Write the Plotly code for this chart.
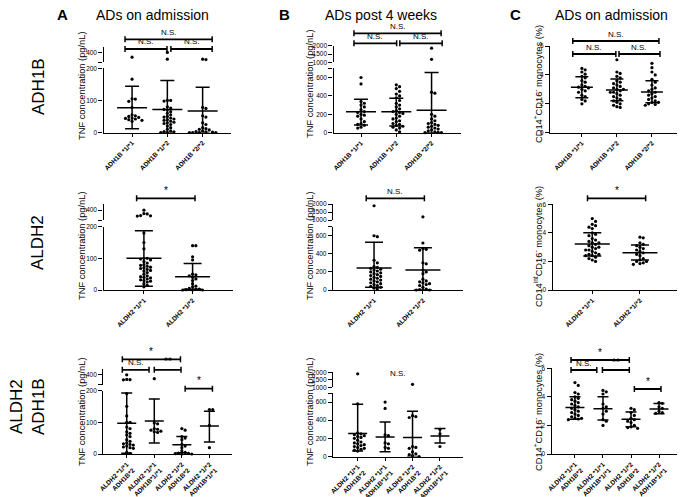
import plotly.graph_objects as go

# page has an 8px body margin: work in reference pixels and shift by OFF
OFF = 8
W, H = 685 - OFF, 497 - OFF
FONT = "Arial, 'Liberation Sans', sans-serif"

# ---------------- DATA ----------------
cats_adh1b = ["ADH1B *1/*1", "ADH1B *1/*2", "ADH1B *2/*2"]
cats_aldh2 = ["ALDH2 *1/*1", "ALDH2 *1/*2"]
cats_combo = ["ALDH2 *1/*1<br>ADH1B*2", "ALDH2 *1/*1<br>ADH1B*1/*1",
              "ALDH2 *1/*2<br>ADH1B*2", "ALDH2 *1/*2<br>ADH1B*1/*1"]

# A1: TNF on admission by ADH1B (pg/nL)
a1_g1 = [350, 166, 105, 104, 97, 78, 55, 52, 50, 47, 45, 44, 42, 40, 38, 35]
a1_g2 = [400, 330, 100, 100, 98, 80, 76, 72, 70, 65, 60, 55, 50, 48, 45, 42, 40, 38, 35,
         32, 30, 28, 25, 20, 15, 10, 5, 3, 2, 0, 0]
a1_g3 = [330, 325, 78, 75, 52, 48, 30, 25, 15, 12, 10, 8, 5, 3, 2, 1, 0, 0, 0, 0]
a1_mean = [77, 72, 67]
a1_lo = [12, 0, 0]
a1_hi = [144, 162, 141]

# B1: TNF post 4 weeks by ADH1B
b1_g1 = [600, 530, 340, 320, 300, 280, 250, 230, 220, 200, 190, 180, 150, 120, 100, 90, 80, 60, 50]
b1_g2 = [520, 500, 480, 450, 420, 400, 380, 350, 320, 300, 280, 260, 240, 230, 220, 210, 200,
         180, 160, 150, 130, 120, 100, 90, 80, 70, 60, 50, 30, 10]
b1_g3 = [1850, 1180, 440, 430, 200, 180, 150, 130, 110, 100, 90, 80, 70, 60, 50, 40, 30, 20,
         10, 5, 0, 0]
b1_mean = [228, 228, 244]
b1_lo = [84, 73, 0]
b1_hi = [363, 375, 654]

# C1: CD14+CD16- monocytes (%) by ADH1B
c1_g1 = [4.45, 4.35, 4.2, 4.05, 3.9, 3.8, 3.6, 3.5, 3.3, 3.2, 3.15, 3.1, 3.0, 2.9, 2.8, 2.6,
         2.5, 2.3, 2.2, 2.0]
c1_g2 = [5.05, 4.2, 4.1, 3.9, 3.8, 3.6, 3.5, 3.4, 3.3, 3.2, 3.1, 3.0, 3.0, 2.9, 2.8, 2.8, 2.7,
         2.6, 2.5, 2.4, 2.3, 2.2, 2.1, 2.0, 1.9, 1.8, 1.75]
c1_g3 = [4.8, 4.5, 4.2, 4.0, 3.7, 3.5, 3.3, 3.1, 3.0, 2.9, 2.8, 2.7, 2.6, 2.5, 2.4, 2.3, 2.2,
         2.1, 2.1, 2.0, 1.95, 1.9]
c1_mean = [3.14, 2.95, 2.82]
c1_lo = [2.42, 2.21, 2.08]
c1_hi = [3.87, 3.72, 3.60]

# A2: TNF on admission by ALDH2
a2_g1 = [400, 365, 362, 345, 343, 340, 180, 150, 130, 100, 100, 98, 95, 90, 85, 80, 78, 75,
         72, 70, 68, 65, 62, 60, 55, 50, 45, 42, 40, 38, 35, 32, 30, 28, 25, 20, 15, 10]
a2_g2 = [140, 140, 105, 95, 50, 48, 45, 40, 35, 30, 20, 12, 10, 5, 3, 2, 1, 0, 0, 0]
a2_mean = [100, 42]
a2_lo = [12, 2]
a2_hi = [187, 84]

# B2: TNF post 4 weeks by ALDH2
b2_g1 = [1890, 600, 590, 330, 300, 260, 250, 240, 230, 220, 210, 200, 190, 180, 170, 160, 150,
         140, 130, 120, 110, 100, 90, 80, 70, 60, 50, 40, 30, 20, 10]
b2_g2 = [1200, 520, 460, 450, 440, 300, 290, 220, 200, 180, 120, 100, 90, 80, 70, 60, 50, 30,
         10, 5, 0, 0]
b2_mean = [243, 221]
b2_lo = [30, 0]
b2_hi = [527, 467]

# C2: CD14intCD16- monocytes (%) by ALDH2
c2_g1 = [5.0, 4.8, 4.6, 4.5, 4.4, 4.3, 4.0, 3.9, 3.8, 3.6, 3.5, 3.4, 3.3, 3.3, 3.2, 3.1, 3.0,
         3.0, 2.9, 2.8, 2.8, 2.7, 2.6, 2.5, 2.5, 2.4, 2.4, 2.3, 2.2, 2.1, 2.0]
c2_g2 = [3.7, 3.65, 3.3, 3.2, 3.1, 3.0, 2.9, 2.8, 2.7, 2.6, 2.5, 2.4, 2.2, 2.1, 2.0, 2.0, 1.9,
         1.85, 1.8]
c2_mean = [3.22, 2.61]
c2_lo = [2.38, 2.10]
c2_hi = [4.00, 3.15]

# A3: TNF on admission by ALDH2/ADH1B combination
a3_g1 = [400, 352, 350, 348, 190, 150, 120, 100, 100, 85, 80, 70, 65, 60, 55, 45, 40, 35, 32,
         30, 28, 25, 22, 20, 18, 5, 2]
a3_g2 = [360, 98, 95, 80, 78, 75, 72, 70, 68]
a3_g3 = [80, 75, 55, 50, 45, 30, 25, 20, 10, 5, 3, 2, 1, 0, 0]
a3_g4 = [140, 140, 90, 20]
a3_mean = [97, 104, 29, 88]
a3_lo = [2, 35, 4, 38]
a3_hi = [192, 173, 55, 135]

# B3: TNF post 4 weeks by combination
b3_g1 = [1900, 580, 260, 250, 240, 230, 220, 210, 200, 180, 160, 150, 140, 130, 120, 110, 100,
         90, 80, 70, 60]
b3_g2 = [600, 530, 240, 230, 150, 140, 100, 90]
b3_g3 = [1200, 450, 440, 430, 110, 100, 90, 50, 30, 20, 10, 0]
b3_g4 = [300, 250, 110]
b3_mean = [253, 216, 209, 227]
b3_lo = [62, 51, 0, 150]
b3_hi = [576, 381, 499, 308]

# C3: CD14+CD16- monocytes (%) by combination
c3_g1 = [5.0, 4.8, 4.3, 4.2, 4.0, 3.9, 3.8, 3.7, 3.6, 3.5, 3.4, 3.3, 3.2, 3.1, 3.0, 2.9, 2.8,
         2.7, 2.6, 2.5, 2.5, 2.45, 2.4]
c3_g2 = [4.45, 4.35, 4.2, 3.5, 3.3, 3.2, 3.0, 2.8, 2.4, 2.3, 2.0]
c3_g3 = [3.2, 3.1, 2.9, 2.7, 2.5, 2.4, 2.3, 2.2, 2.0, 1.9, 1.85, 1.8]
c3_g4 = [3.6, 3.55, 3.3, 3.2, 3.0, 2.9, 2.85]
c3_mean = [3.26, 3.17, 2.43, 3.15]
c3_lo = [2.43, 2.38, 1.91, 2.82]
c3_hi = [4.00, 4.00, 2.94, 3.54]

tnf_title = "TNF concentration (pg/nL)"
mono_title_plus = "CD14<sup>+</sup>CD16<sup>-</sup> monocytes (%)"
mono_title_int = "CD14<sup>int</sup>CD16<sup>-</sup> monocytes (%)"

# ---------------- LAYOUT SPEC (reference pixels) ----------------
A_low = dict(lrange=[0, 200], lticks=[0, 100, 200], ltext=["0", "100", "200"],
             urange=[300, 460], uticks=[300, 400], utext=["", "400"])
B_low = dict(lrange=[0, 700], lticks=[0, 200, 400, 600, 700], ltext=["0", "200", "400", "600", ""],
             urange=[1000, 2000], uticks=[1000, 1500, 2000], utext=["1000", "1500", "2000"])
C_low = dict(lrange=[0, 6], lticks=[0, 2, 4, 6], ltext=["0", "2", "4", "6"])

panels = [
    dict(sc=A_low, x0=103.5, x1=230.5, xr=[-0.81, 2.79], zero=132.5, ltop=68.3, ub=62, ut=46.7,
         cats=cats_adh1b, groups=[a1_g1, a1_g2, a1_g3], mean=a1_mean, lo=a1_lo, hi=a1_hi,
         mw=15, cw=7, ytitle=tnf_title, tx=82, ty=86,
         br=[(-0.2, 2.27, 39.3, "N.S."), (-0.2, 0.99, 49, "N.S."), (1.1, 2.27, 49, "N.S.")]),
    dict(sc=B_low, x0=333.5, x1=460.5, xr=[-0.78, 2.82], zero=132.7, ltop=68.3, ub=62.3, ut=45.7,
         cats=cats_adh1b, groups=[b1_g1, b1_g2, b1_g3], mean=b1_mean, lo=b1_lo, hi=b1_hi,
         mw=15, cw=7, ytitle=tnf_title, tx=310, ty=84,
         br=[(-0.2, 2.27, 33.3, "N.S."), (-0.2, 1.01, 43.3, "N.S."), (1.1, 2.3, 43.3, "N.S.")]),
    dict(sc=C_low, x0=550, x1=681, xr=[-0.91, 2.83], zero=132.7, ltop=46,
         cats=cats_adh1b, groups=[c1_g1, c1_g2, c1_g3], mean=c1_mean, lo=c1_lo, hi=c1_hi,
         mw=11, cw=6.5, ytitle=mono_title_plus, tx=538, ty=84,
         br=[(-0.26, 2.2, 41, "N.S."), (-0.26, 0.97, 54, "N.S."), (1.06, 2.23, 54, "N.S.")]),
    dict(sc=A_low, x0=103.5, x1=233, xr=[-0.83, 1.83], zero=290, ltop=226.7, ub=220, ut=204.3,
         cats=cats_aldh2, groups=[a2_g1, a2_g2], mean=a2_mean, lo=a2_lo, hi=a2_hi,
         mw=17.5, cw=9, ytitle=tnf_title, tx=82, ty=246,
         br=[(-0.15, 1.05, 198.3, "*")]),
    dict(sc=B_low, x0=333, x1=463, xr=[-0.84, 1.82], zero=290, ltop=226.7, ub=220, ut=204,
         cats=cats_aldh2, groups=[b2_g1, b2_g2], mean=b2_mean, lo=b2_lo, hi=b2_hi,
         mw=17.5, cw=9, ytitle=tnf_title, tx=310, ty=246,
         br=[(-0.16, 1.03, 198.3, "N.S.")]),
    dict(sc=C_low, x0=552.7, x1=680, xr=[-0.83, 1.84], zero=290, ltop=204.3,
         cats=cats_aldh2, groups=[c2_g1, c2_g2], mean=c2_mean, lo=c2_lo, hi=c2_hi,
         mw=17.5, cw=9, ytitle=mono_title_int, tx=538, ty=247,
         br=[(-0.1, 1.12, 198.3, "*")]),
    dict(sc=A_low, x0=103.3, x1=232, xr=[-0.85, 3.82], zero=454, ltop=390.5, ub=384.5, ut=369,
         cats=cats_combo, groups=[a3_g1, a3_g2, a3_g3, a3_g4], mean=a3_mean, lo=a3_lo, hi=a3_hi,
         mw=9.5, cw=5.5, ytitle=tnf_title, tx=82, ty=412,
         br=[(-0.16, 1.95, 359.3, "*"), (-0.16, 0.81, 369.8, "N.S."), (1.0, 1.97, 369.8, "**"),
             (2.12, 3.11, 388.7, "*")]),
    dict(sc=B_low, x0=333, x1=463, xr=[-0.9, 3.84], zero=456.5, ltop=393, ub=387.3, ut=372.3,
         cats=cats_combo, groups=[b3_g1, b3_g2, b3_g3, b3_g4], mean=b3_mean, lo=b3_lo, hi=b3_hi,
         mw=9.5, cw=5.5, ytitle=tnf_title, tx=310, ty=412,
         br=[], ns_text=(1.47, 373.5, "N.S.")),
    dict(sc=C_low, x0=551.7, x1=682, xr=[-0.83, 3.82], zero=454, ltop=368.3,
         cats=cats_combo, groups=[c3_g1, c3_g2, c3_g3, c3_g4], mean=c3_mean, lo=c3_lo, hi=c3_hi,
         mw=9.5, cw=5.5, ytitle=mono_title_plus, tx=538, ty=412,
         br=[(-0.14, 1.94, 360, "*"), (-0.14, 0.78, 370, "N.S."), (0.98, 1.94, 370, "**"),
             (2.12, 3.07, 389, "*")]),
]


def py(p):
    return 1 - (p - OFF) / H


def px(p):
    return (p - OFF) / W


BLACK = "#000000"
fig = go.Figure()
layout = dict(width=W, height=H, margin=dict(l=0, r=0, t=0, b=0, autoexpand=False),
              paper_bgcolor="white", plot_bgcolor="white", showlegend=False,
              font=dict(family=FONT, color=BLACK))
shapes = []
annotations = []


def ann(**kw):
    base = dict(showarrow=False, xanchor="center", yanchor="middle")
    base.update(kw)
    annotations.append(base)


axis_common = dict(showline=True, linecolor=BLACK, linewidth=1.4, ticks="outside",
                   tickcolor=BLACK, tickwidth=1.2, showgrid=False, zeroline=False,
                   fixedrange=True, automargin=False)

yax_count = 0
for n, p in enumerate(panels, start=1):
    sc = p["sc"]
    xname = "xaxis" if n == 1 else f"xaxis{n}"
    xref = "x" if n == 1 else f"x{n}"
    yax_count += 1
    ylname = "yaxis" if yax_count == 1 else f"yaxis{yax_count}"
    ylref = "y" if yax_count == 1 else f"y{yax_count}"
    has_upper = "urange" in sc
    if has_upper:
        yax_count += 1
        yuname = f"yaxis{yax_count}"
        yuref = f"y{yax_count}"

    ncat = len(p["cats"])
    layout[xname] = dict(axis_common, domain=[px(p["x0"]), px(p["x1"])], range=p["xr"],
                         anchor=ylref, tickvals=list(range(ncat)),
                         ticktext=[f"<b>{c}</b>" for c in p["cats"]],
                         tickangle=-45, ticklen=3,
                         tickfont=dict(size=6.5, family=FONT, color=BLACK))
    layout[ylname] = dict(axis_common, domain=[py(p["zero"]), py(p["ltop"])], range=sc["lrange"],
                          anchor=xref, tickvals=sc["lticks"], ticktext=sc["ltext"], ticklen=4,
                          tickfont=dict(size=6.5, family=FONT, color=BLACK))
    if has_upper:
        layout[yuname] = dict(axis_common, domain=[py(p["ub"]), py(p["ut"])], range=sc["urange"],
                              anchor=xref, tickvals=sc["uticks"], ticktext=sc["utext"], ticklen=4,
                              tickfont=dict(size=6.5, family=FONT, color=BLACK))

    xpx_per_unit = (p["x1"] - p["x0"]) / (p["xr"][1] - p["xr"][0])
    l0, l1 = sc["lrange"]

    def ypix(v, p=p, sc=sc, has_upper=has_upper):
        if has_upper and v > sc["lrange"][1]:
            u0, u1 = sc["urange"]
            return p["ub"] + (v - u0) / (u1 - u0) * (p["ut"] - p["ub"])
        return p["zero"] + (v - sc["lrange"][0]) / (sc["lrange"][1] - sc["lrange"][0]) * (p["ltop"] - p["zero"])

    # points (beeswarm layout of the listed values)
    d = 3.3
    for gi, vals in enumerate(p["groups"]):
        placed = []
        offs = [0.0] * len(vals)
        order = sorted(range(len(vals)), key=lambda i: -vals[i])
        cands = [0.0]
        for k in range(1, 40):
            cands += [k * d, -k * d]
        for i in order:
            yp = ypix(vals[i])
            chosen = 0.0
            for c in cands:
                if all((c - a) ** 2 + (yp - b) ** 2 >= d * d * 0.9 for a, b in placed):
                    chosen = c
                    break
            placed.append((chosen, yp))
            offs[i] = chosen / xpx_per_unit
        lx = [gi + offs[i] for i, v in enumerate(vals) if v <= l1]
        ly = [v for v in vals if v <= l1]
        fig.add_trace(go.Scatter(x=lx, y=ly, mode="markers", xaxis=xref, yaxis=ylref,
                                 marker=dict(size=3.2, color=BLACK), cliponaxis=False,
                                 hoverinfo="skip"))
        if has_upper:
            ux = [gi + offs[i] for i, v in enumerate(vals) if v > l1]
            uy = [v for v in vals if v > l1]
            if ux:
                fig.add_trace(go.Scatter(x=ux, y=uy, mode="markers", xaxis=xref, yaxis=yuref,
                                         marker=dict(size=3.2, color=BLACK), cliponaxis=False,
                                         hoverinfo="skip"))

    # mean +/- SD
    mw = p["mw"] / xpx_per_unit
    cw = p["cw"] / xpx_per_unit
    sx, sy = [], []
    for gi in range(ncat):
        m, lo, hi = p["mean"][gi], p["lo"][gi], p["hi"][gi]
        sx += [gi - mw, gi + mw, None, gi, gi, None, gi - cw, gi + cw, None, gi - cw, gi + cw, None]
        sy += [m, m, None, lo, hi, None, lo, lo, None, hi, hi, None]
    fig.add_trace(go.Scatter(x=sx, y=sy, mode="lines", xaxis=xref, yaxis=ylref,
                             line=dict(color=BLACK, width=1.5), hoverinfo="skip"))

    # significance brackets
    for (b0, b1, ypx, lab) in p["br"]:
        shapes.append(dict(type="line", xref=xref, yref="paper", x0=b0, x1=b1, y0=py(ypx), y1=py(ypx),
                           line=dict(color=BLACK, width=1.8)))
        for bx in (b0, b1):
            shapes.append(dict(type="line", xref=xref, yref="paper", x0=bx, x1=bx,
                               y0=py(ypx - 3), y1=py(ypx + 3), line=dict(color=BLACK, width=1.5)))
        ann(x=(b0 + b1) / 2, y=py(ypx - 0.5), xref=xref, yref="paper", text=lab, yanchor="bottom",
            font=dict(size=8 if lab == "N.S." else 10, family=FONT, color=BLACK))
    if "ns_text" in p:
        tx_, ty_, tt = p["ns_text"]
        ann(x=tx_, y=py(ty_), xref=xref, yref="paper", text=tt,
            font=dict(size=8, family=FONT, color=BLACK))

    # y axis title
    ann(x=px(p["tx"]), y=py(p["ty"]), xref="paper", yref="paper", text=p["ytitle"],
        textangle=-90, font=dict(size=9.3, family=FONT, color=BLACK))

# column titles
col_titles = [("A", 62, "ADs on admission", 152), ("B", 284, "ADs post 4 weeks", 381),
              ("C", 515, "ADs on admission", 611)]
for letter, lx, title, tcx in col_titles:
    ann(x=px(lx), y=py(15), xref="paper", yref="paper", text=f"<b>{letter}</b>",
        font=dict(size=15, family=FONT, color=BLACK))
    ann(x=px(tcx), y=py(15), xref="paper", yref="paper", text=title,
        font=dict(size=14, family=FONT, color=BLACK))

# row labels
row_labels = [("ADH1B", 38, 87), ("ALDH2", 38, 243), ("ALDH2<br>ADH1B", 27, 407)]
for txt, rx, ry in row_labels:
    ann(x=px(rx), y=py(ry), xref="paper", yref="paper", text=txt, textangle=-90,
        font=dict(size=17, family=FONT, color=BLACK))

layout["shapes"] = shapes
layout["annotations"] = annotations
fig.update_layout(**layout)
fig.write_html("out.html")
